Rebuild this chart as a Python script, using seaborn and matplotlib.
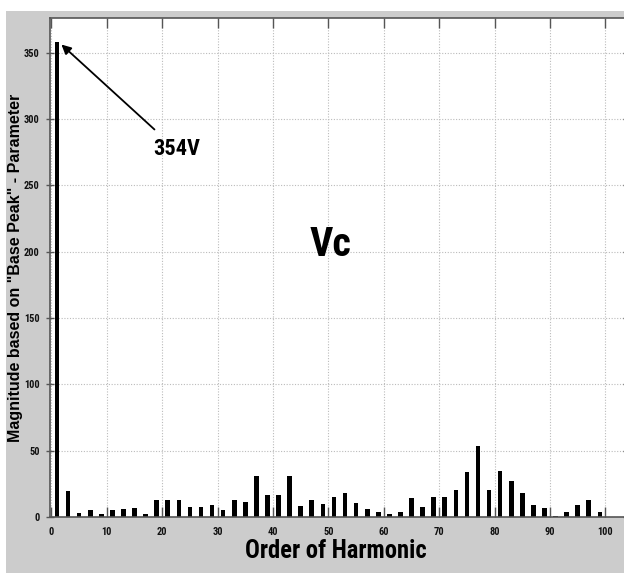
import matplotlib
matplotlib.use("Agg")
import matplotlib.pyplot as plt
from matplotlib import font_manager
from matplotlib.font_manager import FontProperties
from matplotlib.patches import Rectangle
import seaborn as sns
import pandas as pd

# Harmonic orders (odd) and their magnitudes
harmonic_order = list(range(1, 100, 2))
magnitude = [358, 19.6, 3, 5.5, 2.5, 5, 6.3, 6.8, 2.3, 13,
             13, 13, 7.5, 7.5, 9.3, 5.5, 13, 11.6, 30.6, 16.8,
             16.8, 31, 8, 13, 10, 14.8, 18.3, 10.5, 6.3, 4,
             2.5, 3.8, 14.3, 7.3, 15.3, 15, 20, 33.7, 53.5, 20.6,
             34.7, 27, 17.8, 9.3, 6.5, 0.8, 3.5, 9.3, 13, 3.8]
x_ticks = list(range(0, 101, 10))
y_ticks = list(range(0, 351, 50))

df = pd.DataFrame({"order": harmonic_order, "mag": magnitude})

sns.set_theme(style="white")
plt.rcParams["font.family"] = ["Liberation Sans", "DejaVu Sans"]
plt.rcParams["text.color"] = "black"


def find_condensed_bold():
    cands = []
    for f in font_manager.fontManager.ttflist:
        fn = f.fname.lower()
        nm = f.name.lower()
        cond = ("narrow" in nm or "condensed" in nm or "narrow" in fn or "condensed" in fn
                or str(f.stretch) in ("condensed", "semi-condensed", "extra-condensed", "ultra-condensed"))
        bold = (f.weight in ("bold", 700, "700") or "bold" in fn)
        ital = ("italic" in fn or "oblique" in fn or f.style != "normal")
        if cond and bold and not ital:
            pref = 9
            for i, k in enumerate(["liberation", "roboto", "open", "noto", "dejavu"]):
                if k in fn or k in nm:
                    pref = i
                    break
            cands.append((pref, f.fname))
    if cands:
        cands.sort()
        return cands[0][1]
    return None


cf = find_condensed_bold()


def cprop(size):
    if cf:
        return FontProperties(fname=cf, size=size)
    return FontProperties(family="Liberation Sans", weight="bold", size=size)


W, H = 624, 573
fig = plt.figure(figsize=(6.24, 5.73), dpi=100, facecolor="white")
fig.patches.append(Rectangle((6 / W, 0), 1, 562 / H, transform=fig.transFigure,
                             facecolor="#cccccc", edgecolor="none", zorder=-10))
ax = fig.add_axes([49.5 / W, 1 - 517 / H, (627 - 49.5) / W, (517 - 18) / H])
ax.set_facecolor("white")

sns.barplot(data=df, x="order", y="mag", native_scale=True, width=0.42,
            color="black", saturation=1, edgecolor="none", ax=ax)

ax.set_xlim(-0.35, 103.9)
ax.set_ylim(0, 376)
ax.set_xticks(x_ticks)
ax.set_yticks(y_ticks)
ax.set_xticklabels([str(t) for t in x_ticks], fontproperties=cprop(7.5), color="#111111")
ax.set_yticklabels([str(t) for t in y_ticks], fontproperties=cprop(7.5), color="#111111")
ax.grid(True, color="#bbbbbb", linestyle=(0, (1, 1.5)), linewidth=0.8)
ax.set_axisbelow(True)
ax.tick_params(axis="x", direction="in", length=7, width=1, color="#555555",
               top=True, bottom=True, pad=7)
ax.tick_params(axis="y", direction="inout", length=6, width=1, color="#555555",
               left=True, right=True, pad=4)
for s in ax.spines.values():
    s.set_color("#555555")
    s.set_linewidth(1.2)
ax.set_xlabel("")
ax.set_ylabel("")

xl = fig.text(336 / W, 1 - 551 / H, "Order of Harmonic", fontproperties=cprop(21),
              ha="center", va="center", color="black")
yl = fig.text(16 / W, 1 - 268 / H, 'Magnitude based on "Base Peak" - Parameter',
              fontsize=10, fontweight="bold", rotation=90, ha="center", va="center", color="black")
vc = ax.text(50.3, 205, "Vc", fontproperties=cprop(38), ha="center", va="center", color="black")
lbl = ax.text(22.7, 277, "354V", fontproperties=cprop(21), ha="center", va="center", color="black")
ax.annotate("", xy=(1.8, 356), xytext=(18.6, 292),
            arrowprops=dict(arrowstyle="-|>", color="black", lw=1.3, mutation_scale=14,
                            shrinkA=0, shrinkB=0))

# fit text sizes to the measured extents of the reference
fig.canvas.draw()
r = fig.canvas.get_renderer()


def fit(t, target, horizontal=True, max_size=None):
    bb = t.get_window_extent(r)
    cur = bb.width if horizontal else bb.height
    s = t.get_fontsize() * target / cur
    if max_size is not None:
        s = min(s, max_size)
    t.set_fontsize(s)


fit(xl, 182)
fit(yl, 440, horizontal=False, max_size=11.5)
fit(vc, 42)
fit(lbl, 47)

fig.savefig("out.png", dpi=100, facecolor="white")
